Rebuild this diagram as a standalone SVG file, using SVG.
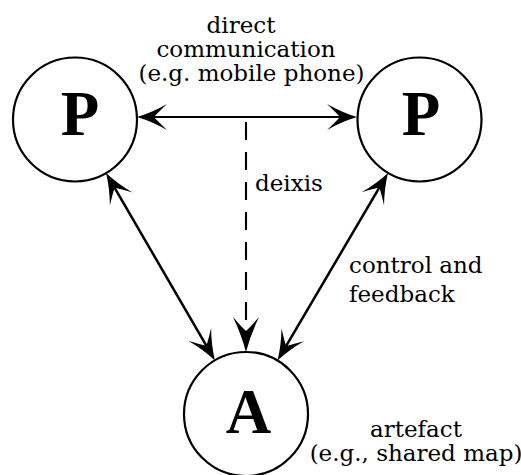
<svg xmlns="http://www.w3.org/2000/svg" width="521" height="475" viewBox="0 0 521 475">
  <style>
    .node { fill: #fff; stroke: #000; stroke-width: 2.2; }
    .big { font-family: "Liberation Serif", "Times New Roman", serif; font-weight: bold; font-size: 63px; fill: #000; text-anchor: middle; }
    .lbl { font-family: "DejaVu Serif", "Liberation Serif", serif; font-size: 23px; fill: #000; }
    .mid { text-anchor: middle; }
    .link { fill: none; stroke: #000; stroke-width: 2.5; }
    .thin { stroke-width: 2.1; }
    .dash { stroke-dasharray: 18 12; }
  </style>
  <defs>
    <!-- concave arrowhead; the line ends 16px short of the tip -->
    <marker id="head" markerUnits="userSpaceOnUse" viewBox="-2 -15 34 30" markerWidth="34" markerHeight="30" refX="14" refY="0" orient="auto-start-reverse">
      <path d="M30,0 Q15,-4.5 0,-13 Q9,-4.5 13,0 Q9,4.5 0,13 Q15,4.5 30,0 Z" fill="#000"/>
    </marker>
    <marker id="headLong" markerUnits="userSpaceOnUse" viewBox="-2 -15 40 30" markerWidth="40" markerHeight="30" refX="14" refY="0" orient="auto">
      <path d="M35,0 Q18,-4.5 0,-13 Q10,-4.5 14,0 Q10,4.5 0,13 Q18,4.5 35,0 Z" fill="#000"/>
    </marker>
  </defs>

  <g id="connectors">
    <line class="link thin" x1="153" y1="117" x2="341" y2="117" marker-start="url(#head)" marker-end="url(#head)"/>
    <line class="link thin dash" x1="246" y1="122" x2="246" y2="331" marker-end="url(#headLong)"/>
    <line class="link" x1="114.1" y1="186.9" x2="206.9" y2="346.6" marker-start="url(#head)" marker-end="url(#head)"/>
    <line class="link" x1="379.9" y1="186.7" x2="285.6" y2="346.8" marker-start="url(#head)" marker-end="url(#head)"/>
  </g>

  <g id="person-left">
    <circle class="node" cx="75" cy="119.5" r="62"/>
    <text class="big" x="80" y="135">P</text>
  </g>

  <g id="person-right">
    <circle class="node" cx="419.5" cy="119.5" r="62"/>
    <text class="big" x="421" y="135">P</text>
  </g>

  <g id="artefact">
    <circle class="node" cx="246" cy="414" r="62"/>
    <text class="big" x="248.5" y="433">A</text>
  </g>

  <g id="labels">
    <text class="lbl mid" x="241" y="33">direct</text>
    <text class="lbl mid" x="246" y="57">communication</text>
    <text class="lbl mid" x="251.5" y="81">(e.g. mobile phone)</text>
    <text class="lbl" x="255" y="191">deixis</text>
    <text class="lbl" x="349" y="273">control and</text>
    <text class="lbl" x="349" y="302">feedback</text>
    <text class="lbl mid" x="416" y="437">artefact</text>
    <text class="lbl mid" x="416" y="461">(e.g., shared map)</text>
  </g>
</svg>
